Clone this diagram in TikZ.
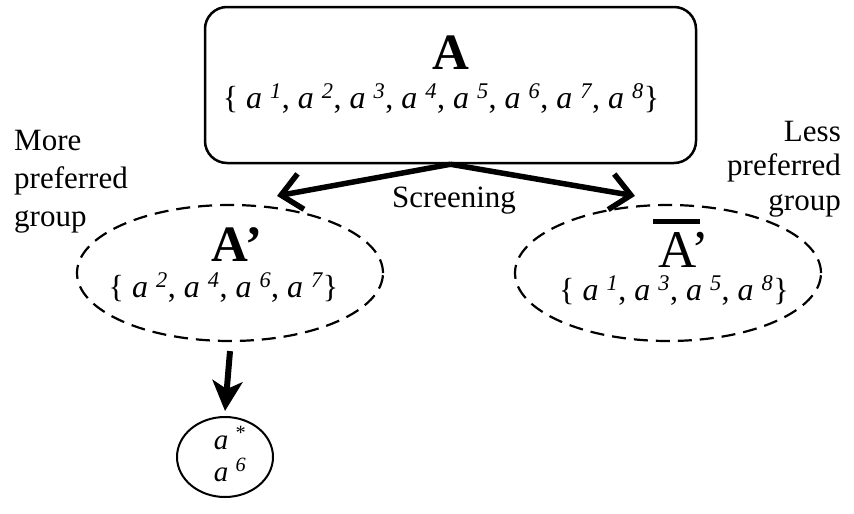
\documentclass[tikz,border=0pt]{standalone}
\usepackage{fontspec}
\setmainfont{Liberation Serif}
\usetikzlibrary{shapes.geometric,arrows.meta}

% one element a^k of the set
\newcommand\elt[1]{\textit{a}\ \textsuperscript{\itshape #1}}

\begin{document}
\begin{tikzpicture}[x=1pt,y=-1pt, %pixel units, y down
  txt/.style={anchor=base,inner sep=0pt,font=\fontsize{31}{38}\selectfont},
  setlbl/.style={txt,font=\fontsize{32}{32}\selectfont},
  setname/.style={anchor=base,inner sep=0pt,font=\fontsize{51}{51}\selectfont\bfseries},
  group/.style={draw,ellipse,dash pattern=on 14pt off 8pt,line width=2.2pt,minimum width=306pt,minimum height=136pt},
  screen/.style={-{Straight Barb[length=20pt,width=36pt]},line width=5.5pt},
  pick/.style={-{Stealth[length=30pt,width=30pt,inset=8pt]},line width=6pt}]
\useasboundingbox (0,0) rectangle (854,514);

% the whole set
\node[draw,line width=2.5pt,rounded corners=22pt,minimum width=491pt,minimum height=156pt] (A) at (450.5,85) {};
\node[setname] (Aname) at (451,69) {A};
\node[setlbl] (Aset) at (441,108) {\{ \elt1, \elt2, \elt3, \elt4, \elt5, \elt6, \elt7, \elt8\}};

% screened groups
\node[group] (G1) at (230,273) {};
\node[setname] (G1name) at (237,261) {A’};
\node[setlbl] (G1set) at (223.5,297) {\{ \elt2, \elt4, \elt6, \elt7\}};

\node[group] (G2) at (668,273) {};
\node[setname,font=\fontsize{53}{53}\selectfont] (G2name) at (684,267) {A’};
\draw[line width=5pt] ([shift={(-6pt,10pt)}]G2name.north west) -- ([shift={(-9pt,10pt)}]G2name.north east);
\node[setlbl] (G2set) at (674,300) {\{ \elt1, \elt3, \elt5, \elt8\}};

% best alternative
\node[draw,ellipse,line width=2pt,minimum width=96pt,minimum height=80pt] (B) at (225,457) {};
\node[setlbl,font=\fontsize{29}{29}\selectfont] (Bstar) at (230,449) {\textit{a}\ \textsuperscript{*}};
\node[setlbl,font=\fontsize{29}{29}\selectfont] (Bsix) at (230,481) {\elt6};

% arrows
\draw[screen] (A.south) -- ([shift={(47,-8)}]G1.north);
\draw[screen] (A.south) -- ([shift={(-33,-8)}]G2.north);
\draw[pick] ([yshift=-9pt]G1.south) -- ([yshift=5pt]B.north);
\node[txt] (scr) at (454,207) {Screening};

% side labels
\node[txt,anchor=base west,align=left] (more) at (14,226) {More\\preferred\\group};
\node[txt,anchor=base east,align=right,font=\fontsize{31}{34.5}\selectfont] (less) at (841,210) {Less\\preferred\\group};
\end{tikzpicture}
\end{document}
